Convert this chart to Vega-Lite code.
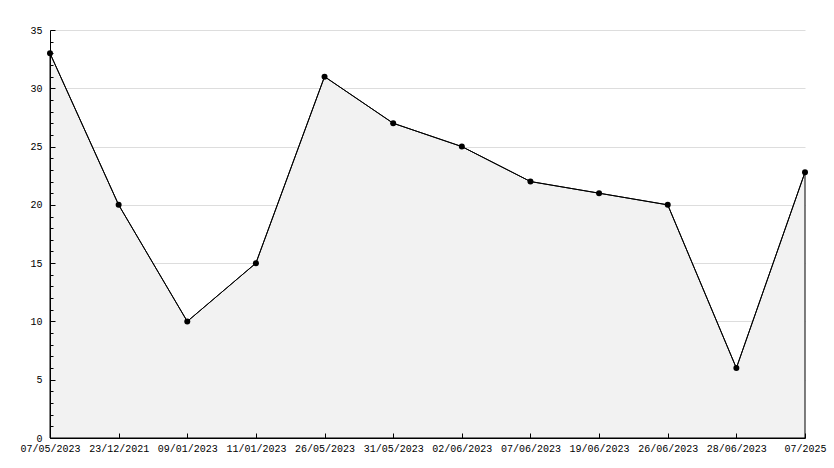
{
  "$schema": "https://vega.github.io/schema/vega-lite/v6.json",
  "width": 755,
  "height": 408,
  "autosize": {"type": "none"},
  "padding": {"left": 50, "top": 30, "right": 29, "bottom": 30},
  "background": "white",
  "config": {
    "view": {"stroke": null},
    "font": "Liberation Mono"
  },
  "data": {
    "values": [
      {"date": "07/05/2023", "value": 33},
      {"date": "23/12/2021", "value": 20},
      {"date": "09/01/2023", "value": 10},
      {"date": "11/01/2023", "value": 15},
      {"date": "26/05/2023", "value": 31},
      {"date": "31/05/2023", "value": 27},
      {"date": "02/06/2023", "value": 25},
      {"date": "07/06/2023", "value": 22},
      {"date": "19/06/2023", "value": 21},
      {"date": "26/06/2023", "value": 20},
      {"date": "28/06/2023", "value": 6},
      {"date": "07/2025", "value": 22.8}
    ]
  },
  "encoding": {
    "x": {
      "field": "date",
      "type": "nominal",
      "sort": null,
      "scale": {"type": "point", "padding": 0},
      "axis": {
        "title": null,
        "labelAngle": 0,
        "labelFont": "Liberation Mono",
        "labelFontSize": 10,
        "labelColor": "#000",
        "labelPadding": 10,
        "tickSize": -5,
        "tickColor": "#000",
        "domainColor": "#000",
        "grid": false,
        "zindex": 1,
        "labelOverlap": false
      }
    }
  },
  "layer": [
    {
      "mark": {"type": "area", "color": "#f2f2f2", "stroke": "#000", "strokeWidth": 1},
      "encoding": {
        "y": {
          "field": "value",
          "type": "quantitative",
          "scale": {"domain": [0, 35], "nice": false, "zero": true},
          "axis": {
            "orient": "right",
            "title": null,
            "values": [5, 10, 15, 20, 25, 30, 35],
            "labels": false,
            "ticks": false,
            "domain": false,
            "grid": true,
            "gridColor": "#dddddd",
            "zindex": 0
          }
        }
      }
    },
    {
      "mark": {"type": "line", "color": "#000", "strokeWidth": 1},
      "encoding": {
        "y": {
          "field": "value",
          "type": "quantitative",
          "axis": {
            "orient": "left",
            "title": null,
            "values": [0,1,2,3,4,5,6,7,8,9,10,11,12,13,14,15,16,17,18,19,20,21,22,23,24,25,26,27,28,29,30,31,32,33,34,35],
            "labelExpr": "datum.value % 5 === 0 ? datum.label : ''",
            "labelFont": "Liberation Mono",
            "labelFontSize": 10,
            "labelColor": "#000",
            "labelPadding": 13,
            "tickSize": {"condition": {"test": "datum.value % 5 === 0", "value": -5}, "value": -3},
            "tickColor": "#000",
            "domainColor": "#000",
            "grid": false,
            "zindex": 1,
            "labelOverlap": false
          }
        }
      }
    },
    {
      "mark": {"type": "point", "filled": true, "color": "#000", "size": 36, "opacity": 1},
      "encoding": {"y": {"field": "value", "type": "quantitative", "axis": null}}
    }
  ],
  "resolve": {"axis": {"y": "independent"}}
}
